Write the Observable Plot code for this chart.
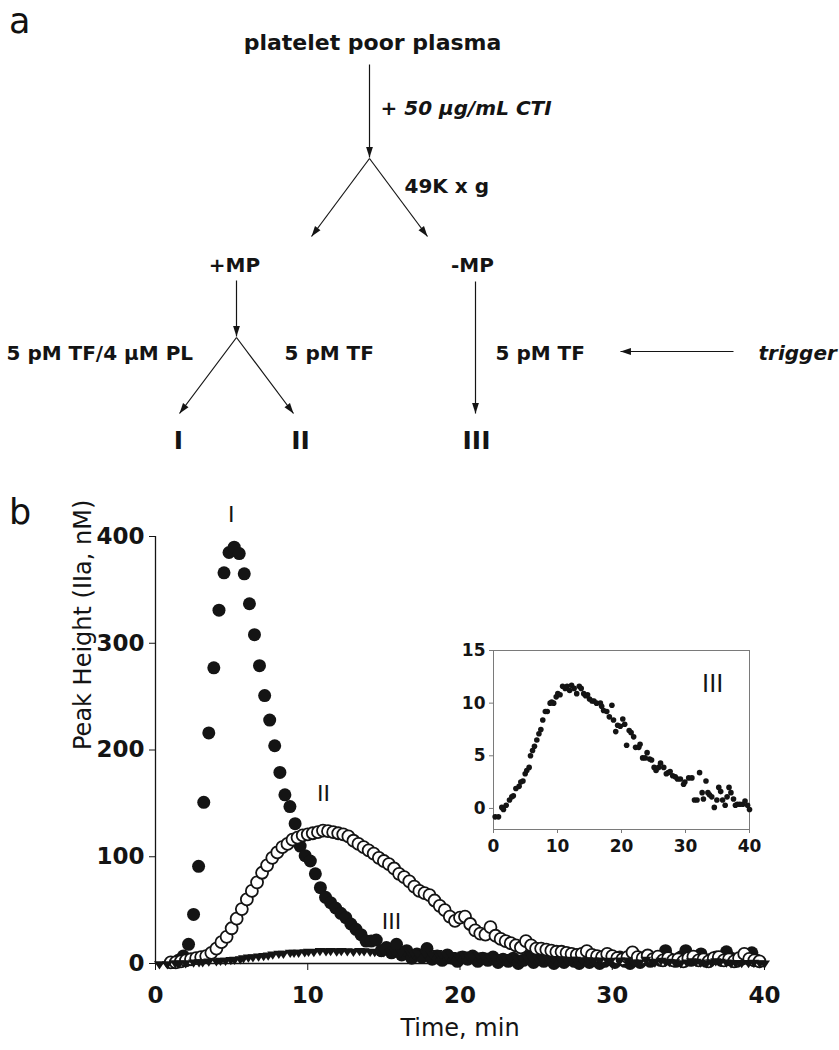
<!DOCTYPE html>
<html><head><meta charset="utf-8">
<script src="https://cdn.jsdelivr.net/npm/d3@7"></script>
<script src="https://cdn.jsdelivr.net/npm/@observablehq/plot@0.6"></script>
<style>
body{margin:0;background:#fff;}
#page{position:relative;width:839px;height:1050px;overflow:hidden;font-family:"DejaVu Sans",sans-serif;color:#111;}
#page > div{position:absolute;}
.panel{font-size:35px;line-height:1.1;}
</style></head><body>
<div id="page">
  <div id="diagram" style="left:0;top:0"></div>
  <div id="main" style="left:0;top:480px"></div>
  <div id="inset" style="left:440px;top:630px"></div>
  <div class="panel" style="left:9px;top:2px">a</div>
  <div class="panel" style="left:9px;top:493px">b</div>
</div>
<script>
// ---------------- DATA ----------------
// Panel a: flow diagram labels
const flowText = ["platelet poor plasma", "+ 50 μg/mL CTI", "49K x g", "+MP", "-MP",
  "5 pM TF/4 μM PL", "5 pM TF", "5 pM TF", "trigger", "I", "II", "III"];
const flowRole = ["title", "note", "plain", "node", "node", "plain", "plain", "plain", "note", "result", "result", "result"];

// Panel b: time (min) and peak height (IIa, nM)
const timeI = [1.17,1.5,1.83,2.17,2.5,2.83,3.17,3.5,3.83,4.17,4.5,4.83,5.17,5.5,5.83,6.17,6.5,6.83,7.17,7.5,7.83,8.17,8.5,8.83,9.17,9.5,9.83,10.17,10.5,10.83,11.17,11.5,11.83,12.17,12.5,12.83,13.17,13.5,13.83,14.17,14.5,
  14.83,15.17,15.5,15.83,16.17,16.5,16.83,17.17,17.5,17.83,18.17,18.5,18.83,19.17,19.5,19.83,20.17,20.5,20.83,21.17,21.5,21.83,22.17,22.5,22.83,23.17,23.5,23.83,24.17,24.5,24.83,25.17,25.5,25.83,26.17,26.5,26.83,27.17,27.5,27.83,28.17,28.5,28.83,29.17,29.5,29.83,30.17,30.5,30.83,31.17,31.5,31.83,32.17,32.5,32.83,33.17,33.5,33.83,34.17,34.5,34.83,35.17,35.5,35.83,36.17,36.5,36.83,37.17,37.5,37.83,38.17,38.5,38.83,39.17,39.5];
const peakI = [1,3,7,18,46,91,151,216,277,331,366,385,390,384,365,337,308,279,251,228,204,179,158,147,131,110,101,96,84,71,62,57,52,47,43,37,32,27,21,21,22,
  12,15,10,18,8,12,5,9,6,14,4,7,3,8,5,2,6,4,7,2,5,3,6,1,4,2,5,0,3,6,1,4,2,5,0,3,1,4,2,0,5,1,3,0,2,4,1,6,2,0,3,1,4,2,5,3,12,4,2,6,12,3,5,9,2,4,6,3,11,5,2,4,7,10,3];

const timeII = [1.0,1.33,1.67,2.0,2.33,2.67,3.0,3.33,3.67,4.0,4.33,4.67,5.0,5.33,5.67,6.0,6.33,6.67,7.0,7.33,7.67,8.0,8.33,8.67,9.0,9.33,9.67,10.0,10.33,10.67,11.0,11.33,11.67,12.0,12.33,12.67,13.0,13.33,13.67,14.0,14.33,14.67,15.0,15.33,15.67,16.0,16.33,16.67,17.0,17.33,17.67,18.0,18.33,18.67,19.0,19.33,19.67,20.0,20.33,20.67,21.0,21.33,21.67,22.0,22.33,22.67,23.0,23.33,23.67,24.0,24.33,24.67,25.0,25.33,25.67,26.0,26.33,26.67,27.0,27.33,27.67,28.0,28.33,28.67,29.0,29.33,29.67,30.0,30.33,30.67,31.0,31.33,31.67,32.0,32.33,32.67,33.0,33.33,33.67,34.0,34.33,34.67,35.0,35.33,35.67,36.0,36.33,36.67,37.0,37.33,37.67,38.0,38.33,38.67,39.0,39.33,39.67];
const peakII = [1,1,2,3,4,5,6,7,10,14,20,25,33,42,51,60,68,76,85,92,99,104,109,112,116,118,120,121,122,123,124.5,124,123,122,121,119,115,112,109,106,103,99,96,93,89,84,81,77,72,68,66,64,59,54,50,44,40,43,44,37,31,28,27,34,26,23,21,19,17,15,21,17,14,14,13,12,11,11,10,9,8,9,11.5,8,7,6,9,7,5,4,6,10.5,6,5,7.5,4,6.5,3,5,3,4,2,5,6.5,3,4,2,5,6,3,4,2,5,9,4.4,3,2];

const timeIII = [0.26,0.78,1.3,1.56,1.98,2.5,2.86,3.1,3.5,4.0,4.27,4.6,4.95,5.2,5.57,5.78,6.1,6.4,6.77,7.1,7.4,7.7,8.1,8.4,8.85,9.1,9.4,9.8,10.05,10.4,10.8,11.2,11.5,11.9,12.2,12.6,13.0,13.4,13.7,14.1,14.4,14.7,15.0,15.4,15.7,16.1,16.7,16.9,17.2,17.7,18.1,18.5,18.75,19.1,19.4,19.8,20.2,20.5,20.8,21.2,21.5,21.9,22.2,22.7,22.9,23.3,23.7,24.0,24.4,24.7,25.1,25.4,25.8,26.1,26.6,27.0,27.3,27.6,28.0,28.4,28.75,29.2,29.7,29.9,30.5,31.0,31.4,31.8,32.2,32.6,32.8,33.2,33.5,33.75,34.1,34.5,34.9,35.2,35.5,35.8,36.2,36.5,36.8,37.1,37.5,37.8,38.1,38.5,38.95,39.3,39.7,40.0];
const peakIII = [-0.8,-0.8,0.1,-0.1,0.3,0.8,1.1,1.2,1.9,2.1,2.5,2.6,3.3,3.6,3.9,5.0,5.5,5.9,6.5,7.1,7.5,8.4,9.2,9.2,10.0,10.1,10.0,10.6,10.9,10.8,11.6,11.4,11.6,11.2,11.7,11.4,10.9,11.6,11.4,10.9,10.7,10.8,10.4,10.2,10.2,10.0,10.0,9.7,9.3,9.2,8.7,9.8,8.4,7.3,7.9,7.8,8.5,8.0,6.0,7.4,7.2,6.8,5.8,5.8,6.1,4.8,4.8,5.3,4.7,4.6,3.9,3.6,3.9,4.3,3.9,3.3,3.4,3.5,3.1,3.0,2.8,2.8,2.3,2.5,2.9,2.9,0.8,0.8,3.4,1.5,0.9,2.6,1.5,1.3,1.1,0.1,0.8,2.0,1.6,0.8,0.3,1.1,2.0,1.5,0.9,0.3,0.4,0.4,0.4,0.7,0.3,-0.1];

const xTicks = [0, 10, 20, 30, 40];
const yTicks = [0, 100, 200, 300, 400];
const insetYTicks = [0, 5, 10, 15];
const seriesLabels = ["I", "II", "III"];

// ---------------- LAYOUT (diagram units / annotation anchors) ----------------
const flowPos = [[372,42],[380,108],[404,186],[234,265],[472,265],[6,353],[284,353],[495,353],[758,353],[178,440],[300,440],[476,440]];
const flowArrows = [[[369,64],[369,157]],[[369,158],[311,236]],[[369,158],[427,236]],
  [[236,280],[236,336]],[[236,337],[179,413]],[[236,337],[293,413]],[[475,281],[475,413]],[[733,351],[620,351]]];
const labelAnchorT = [4.97, 11.03, 15.5];
const labelAnchorV = [420, 159, 39];

const INK = "#141414";
const FONT = '"DejaVu Sans", sans-serif';

// custom symbols
const arrowHead = {draw(ctx, size) { const r = Math.sqrt(size / Math.PI);
  ctx.moveTo(0, 0); ctx.lineTo(-r * 0.62, -r * 1.9); ctx.lineTo(r * 0.62, -r * 1.9); ctx.closePath(); }};
const downTriangle = {draw(ctx, size) { const r = Math.sqrt(size / Math.PI);
  ctx.moveTo(-r, -r * 0.55); ctx.lineTo(r, -r * 0.55); ctx.lineTo(0, r * 0.95); ctx.closePath(); }};

// ---------------- PANEL A ----------------
const nodes = flowText.map((text, i) => ({text, role: flowRole[i], x: flowPos[i][0], y: flowPos[i][1]}));
const arrows = flowArrows.map(([a, b]) => ({x1: a[0], y1: a[1], x2: b[0], y2: b[1],
  angle: Math.atan2(-(b[0] - a[0]), b[1] - a[1]) * 180 / Math.PI}));
const byRole = (r) => nodes.filter(d => d.role === r);

const diagram = Plot.plot({
  width: 839, height: 470, margin: 0,
  x: {domain: [0, 839], range: [0, 839], axis: null},
  y: {domain: [0, 470], range: [0, 470], axis: null},
  style: {fontFamily: FONT, color: INK, background: "transparent", overflow: "visible"},
  marks: [
    Plot.link(arrows, {x1: "x1", y1: "y1", x2: "x2", y2: "y2", stroke: INK, strokeWidth: 1.2}),
    Plot.dot(arrows, {x: "x2", y: "y2", rotate: "angle", symbol: arrowHead, r: 5.5, fill: INK, stroke: "none"}),
    Plot.text(byRole("title"), {x: "x", y: "y", text: "text", fontSize: 22, fontWeight: "bold", textAnchor: "middle", fill: INK}),
    Plot.text(byRole("note"), {x: "x", y: "y", text: "text", fontSize: 20, fontWeight: "bold", fontStyle: "italic", textAnchor: "start", fill: INK}),
    Plot.text(byRole("plain"), {x: "x", y: "y", text: "text", fontSize: 20, fontWeight: "bold", textAnchor: "start", fill: INK}),
    Plot.text(byRole("node"), {x: "x", y: "y", text: "text", fontSize: 20, fontWeight: "bold", textAnchor: "middle", fill: INK}),
    Plot.text(byRole("result"), {x: "x", y: "y", text: "text", fontSize: 25, fontWeight: "bold", textAnchor: "middle", fill: INK})
  ]
});
document.getElementById("diagram").append(diagram);

// ---------------- PANEL B ----------------
const dataI = timeI.map((t, i) => ({t, v: peakI[i]}));
const dataII = timeII.map((t, i) => ({t, v: peakII[i]}));
const dataIII = timeIII.map((t, i) => ({t, v: peakIII[i]}));
const labels = seriesLabels.map((s, i) => ({s, t: labelAnchorT[i], v: labelAnchorV[i]}));

const main = Plot.plot({
  width: 839, height: 570,
  marginLeft: 155, marginRight: 75, marginTop: 56, marginBottom: 87,
  x: {domain: [0, 40]},
  y: {domain: [0, 400]},
  style: {fontFamily: FONT, color: INK, background: "transparent", overflow: "visible"},
  marks: [
    Plot.axisX({ticks: xTicks, tickSize: 7, tickPadding: 16, fontSize: 23, fontWeight: "bold", label: null, tickFormat: d => d}),
    Plot.axisY({ticks: yTicks, tickSize: 6, tickPadding: 5, fontSize: 23, fontWeight: "bold", label: null, tickFormat: d => d}),
    Plot.ruleX([0], {stroke: INK, strokeWidth: 1.3}),
    Plot.ruleY([0], {stroke: INK, strokeWidth: 1.3}),
    Plot.dot(dataI, {x: "t", y: "v", r: 6.5, fill: INK, stroke: "none"}),
    Plot.dot(dataII, {x: "t", y: "v", r: 6, fill: "white", stroke: INK, strokeWidth: 1.8}),
    Plot.dot(dataIII, {x: "t", y: "v", r: 5.5, symbol: downTriangle, fill: INK, stroke: "none"}),
    Plot.text(labels, {x: "t", y: "v", text: "s", fontSize: 22, fill: INK}),
    Plot.text(["Time, min"], {frameAnchor: "bottom", dy: 72, fontSize: 24, fill: INK}),
    Plot.text(["Peak Height (IIa, nM)"], {frameAnchor: "left", dx: -72, rotate: -90, fontSize: 24, fill: INK})
  ]
});
document.getElementById("main").append(main);

const inset = Plot.plot({
  width: 330, height: 240,
  marginLeft: 53, marginRight: 21, marginTop: 20, marginBottom: 41,
  x: {domain: [0, 40]},
  y: {domain: [-2, 15]},
  style: {fontFamily: FONT, color: INK, background: "transparent", overflow: "visible"},
  marks: [
    Plot.frame({stroke: "#7a7a7a", strokeWidth: 1}),
    Plot.axisX({ticks: xTicks, tickSize: 4, tickPadding: 6, fontSize: 17, fontWeight: "bold", label: null, stroke: "#7a7a7a", tickFormat: d => d}),
    Plot.axisY({ticks: insetYTicks, tickSize: 4, tickPadding: 4, fontSize: 17, fontWeight: "bold", label: null, stroke: "#7a7a7a", tickFormat: d => d}),
    Plot.dot(dataIII, {x: "t", y: "v", r: 2.8, fill: INK, stroke: "none"}),
    Plot.text(["III"], {x: 34.25, y: 11.8, fontSize: 24, fill: INK})
  ]
});
document.getElementById("inset").append(inset);
</script>
</body></html>
